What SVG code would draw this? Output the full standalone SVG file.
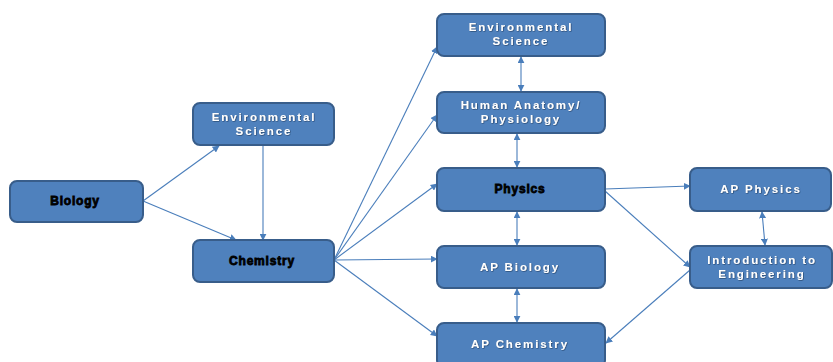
<svg xmlns="http://www.w3.org/2000/svg" width="833" height="362" viewBox="0 0 833 362">
<style>
.box{fill:#4f81bd;stroke:#385d8a;stroke-width:2}
.w{fill:#ffffff;font-family:"Liberation Sans",Arial,sans-serif;font-weight:bold;font-size:11.5px;letter-spacing:1.9px;text-anchor:middle;filter:url(#sh)}
.k{fill:#000000;stroke:#000;stroke-width:0.8;font-family:"Liberation Sans",Arial,sans-serif;font-weight:bold;font-size:12px;letter-spacing:0.8px;text-anchor:middle}
.c{stroke:#4a7ebb;stroke-width:1.1;fill:none;marker-end:url(#ah)}
.b{marker-start:url(#as)}
</style>
<defs>
<filter id="sh" x="-10%" y="-30%" width="120%" height="160%"><feDropShadow dx="0.6" dy="0.6" stdDeviation="0.3" flood-color="#1f3350" flood-opacity="0.8"/></filter>
<marker id="ah" viewBox="0 0 10 10" refX="9" refY="5" markerWidth="7" markerHeight="7" markerUnits="userSpaceOnUse" orient="auto"><path d="M0,0 L10,5 L0,10 z" fill="#4a7ebb"/></marker>
<marker id="as" viewBox="0 0 10 10" refX="1" refY="5" markerWidth="7" markerHeight="7" markerUnits="userSpaceOnUse" orient="auto"><path d="M10,0 L0,5 L10,10 z" fill="#4a7ebb"/></marker>
</defs>
<rect width="833" height="362" fill="#ffffff"/>
<g id="connectors">
<line class="c" x1="143" y1="201" x2="219" y2="146"/>
<line class="c" x1="143" y1="201" x2="236" y2="240"/>
<line class="c" x1="263" y1="145" x2="263" y2="240"/>
<line class="c" x1="334" y1="260" x2="437" y2="47"/>
<line class="c" x1="334" y1="260" x2="437" y2="115"/>
<line class="c" x1="334" y1="260" x2="437" y2="184"/>
<line class="c" x1="334" y1="260" x2="437" y2="259"/>
<line class="c" x1="334" y1="260" x2="437" y2="336"/>
<line class="c b" x1="521" y1="57" x2="521" y2="91"/>
<line class="c b" x1="517" y1="134" x2="517" y2="167"/>
<line class="c b" x1="517" y1="212" x2="517" y2="245"/>
<line class="c b" x1="517" y1="289" x2="517" y2="322"/>
<line class="c" x1="605" y1="189" x2="690" y2="186"/>
<line class="c" x1="605" y1="191" x2="690" y2="267"/>
<line class="c" x1="690" y1="270" x2="606" y2="343"/>
<line class="c b" x1="762" y1="212" x2="765" y2="245"/>
</g>
<g id="biology"><rect class="box" x="10" y="181" width="133" height="41" rx="7"/><text class="k" x="75" y="205">Biology</text></g>
<g id="envsci1"><rect class="box" x="193" y="103" width="141" height="42" rx="7"/><text class="w" x="264" y="121">Environmental</text><text class="w" x="264" y="135">Science</text></g>
<g id="chemistry"><rect class="box" x="193" y="240" width="141" height="42" rx="7"/><text class="k" x="262" y="265">Chemistry</text></g>
<g id="envsci2"><rect class="box" x="437" y="14" width="168" height="42" rx="7"/><text class="w" x="521" y="31">Environmental</text><text class="w" x="521" y="45">Science</text></g>
<g id="anatomy"><rect class="box" x="437" y="92" width="168" height="41" rx="7"/><text class="w" x="521" y="109">Human Anatomy/</text><text class="w" x="521" y="123">Physiology</text></g>
<g id="physics"><rect class="box" x="437" y="168" width="168" height="43" rx="7"/><text class="k" x="520" y="193">Physics</text></g>
<g id="apbiology"><rect class="box" x="437" y="246" width="168" height="42" rx="7"/><text class="w" x="520" y="271">AP Biology</text></g>
<g id="apchemistry"><rect class="box" x="437" y="323" width="168" height="44" rx="7"/><text class="w" x="520" y="348">AP Chemistry</text></g>
<g id="apphysics"><rect class="box" x="690" y="168" width="141" height="43" rx="7"/><text class="w" x="761" y="193">AP Physics</text></g>
<g id="introeng"><rect class="box" x="690" y="246" width="142" height="42" rx="7"/><text class="w" x="762" y="264">Introduction to</text><text class="w" x="762" y="278">Engineering</text></g>
</svg>
